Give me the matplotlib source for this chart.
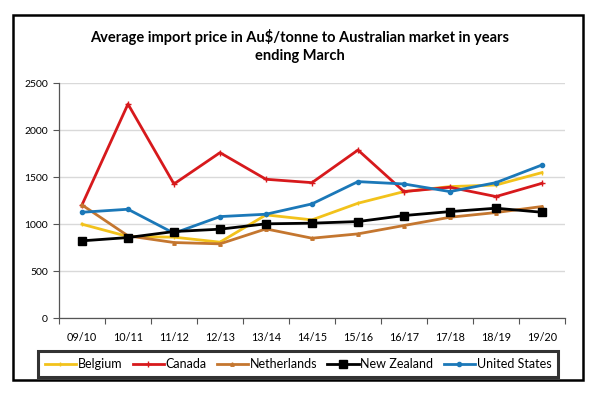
import matplotlib
matplotlib.use("Agg")
import matplotlib.pyplot as plt
from matplotlib.patches import Rectangle

plt.rcParams['font.family'] = ['Lato', 'DejaVu Sans']

years = ["09/10", "10/11", "11/12", "12/13", "13/14", "14/15", "15/16", "16/17", "17/18", "18/19", "19/20"]
belgium = [998, 867, 860, 807, 1097, 1044, 1221, 1345, 1398, 1415, 1547]
canada = [1203, 2276, 1426, 1759, 1476, 1440, 1787, 1345, 1391, 1292, 1433]
netherlands = [1203, 874, 803, 789, 948, 849, 895, 984, 1072, 1122, 1186]
new_zealand = [821, 856, 920, 945, 1002, 1009, 1026, 1090, 1132, 1168, 1125]
united_states = [1125, 1157, 902, 1079, 1104, 1214, 1451, 1426, 1345, 1440, 1628]
y_ticks = [0, 500, 1000, 1500, 2000, 2500]

fig = plt.figure(figsize=(6, 3.93), dpi=100)
ax = fig.add_axes([0.0983, 0.1908, 0.8433, 0.598])

x = list(range(len(years)))
lw = 2.0
ax.plot(x, belgium, color='#F2C21B', lw=lw, marker='|', ms=3, label='Belgium', zorder=3)
ax.plot(x, canada, color='#D7191C', lw=lw, marker='+', ms=4, label='Canada', zorder=3)
ax.plot(x, netherlands, color='#C4762F', lw=lw, marker='^', ms=2.5, label='Netherlands', zorder=3)
ax.plot(x, new_zealand, color='black', lw=lw, marker='s', ms=6, label='New Zealand', zorder=4)
ax.plot(x, united_states, color='#1B78B8', lw=lw, marker='o', ms=3, label='United States', zorder=3)

ax.set_xlim(-0.5, len(years) - 0.5)
ax.set_ylim(0, 2500)
ax.set_yticks(y_ticks)
ax.set_yticklabels([str(v) for v in y_ticks], fontsize=7.5)
ax.set_xticks(x)
ax.set_xticklabels(years, fontsize=7.8)
ax.tick_params(axis='x', length=0, pad=10)
ax.set_xticks([i + 0.5 for i in range(-1, len(years))], minor=True)
ax.tick_params(axis='x', which='minor', length=4, width=0.8, color='#555555')
ax.tick_params(axis='y', length=4, width=0.8, color='#555555', pad=4)
ax.grid(axis='y', color='#D9D9D9', lw=1)
ax.set_axisbelow(True)
for s in ['top', 'right']:
    ax.spines[s].set_visible(False)
for s in ['left', 'bottom']:
    ax.spines[s].set_color('#555555')
    ax.spines[s].set_linewidth(0.9)

fig.text(0.5, 1 - 46 / 393, "Average import price in Au$/tonne to Australian market in years\nending March",
         ha='center', va='center', fontsize=10.5, fontweight='bold', linespacing=1.45)

leg = fig.legend(loc='center', bbox_to_anchor=(298 / 600, 1 - 364 / 393), ncol=5, fontsize=9.0,
                 frameon=True, fancybox=False, handlelength=2.5, handletextpad=0.15,
                 columnspacing=0.8, borderpad=0.55, borderaxespad=0.2)
leg.get_frame().set_edgecolor('black')
leg.get_frame().set_linewidth(2.2)

fig.patches.append(Rectangle((13 / 600, 1 - 380 / 393), 570 / 600, 365 / 393, transform=fig.transFigure,
                             fill=False, edgecolor='black', lw=1.8))

fig.savefig('out.png', dpi=100)
